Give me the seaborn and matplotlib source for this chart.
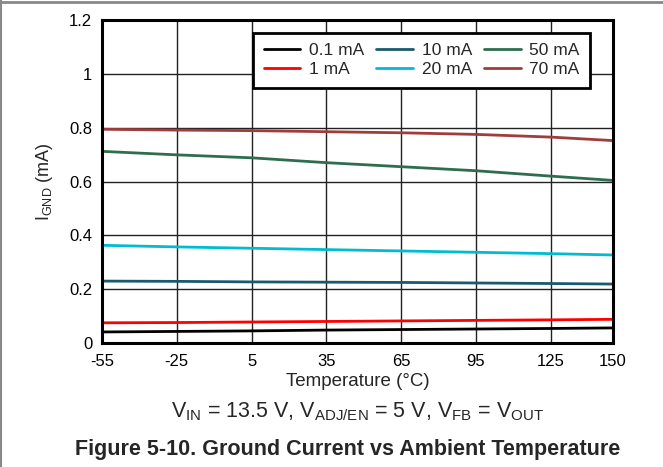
import numpy as np
import pandas as pd
import matplotlib
matplotlib.use("Agg")
import matplotlib.pyplot as plt
from matplotlib.lines import Line2D
import seaborn as sns

temps = [-55, -25, 5, 35, 65, 95, 125, 150]
i_01 = [0.041, 0.043, 0.045, 0.048, 0.050, 0.052, 0.054, 0.056]
i_1 = [0.075, 0.076, 0.078, 0.080, 0.082, 0.084, 0.086, 0.088]
i_10 = [0.230, 0.229, 0.227, 0.226, 0.225, 0.223, 0.221, 0.219]
i_20 = [0.363, 0.357, 0.352, 0.347, 0.342, 0.337, 0.332, 0.327]
i_50 = [0.712, 0.699, 0.688, 0.670, 0.655, 0.640, 0.620, 0.604]
i_70 = [0.794, 0.791, 0.789, 0.785, 0.781, 0.775, 0.765, 0.752]
series_names = ["0.1 mA", "1 mA", "10 mA", "20 mA", "50 mA", "70 mA"]
colors = ["#000000", "#FF0000", "#1A5A6E", "#00BCD0", "#2E6E4E", "#A03C3C"]
x_ticks = [-55, -25, 5, 35, 65, 95, 125, 150]
y_ticks = [0, 0.2, 0.4, 0.6, 0.8, 1.0, 1.2]
y_tick_labels = ["0", "0.2", "0.4", "0.6", "0.8", "1", "1.2"]

rows = []
for name, vals in zip(series_names, [i_01, i_1, i_10, i_20, i_50, i_70]):
    for t, v in zip(temps, vals):
        rows.append({"Temperature": t, "IGND": v, "Series": name})
df = pd.DataFrame(rows)

sns.set_style("white")
plt.rcParams["font.family"] = ["Liberation Sans", "DejaVu Sans"]
plt.rcParams["mathtext.fontset"] = "custom"
plt.rcParams["mathtext.rm"] = "Liberation Sans"
plt.rcParams["mathtext.it"] = "Liberation Sans"

fig = plt.figure(figsize=(6.63, 4.67), dpi=100)
ax = fig.add_axes([102 / 663, 1 - 343 / 467, 511 / 663, 323 / 467])

sns.lineplot(data=df, x="Temperature", y="IGND", hue="Series",
             hue_order=series_names, palette=colors, linewidth=2, ax=ax,
             legend=False, zorder=3)

ax.set_xlim(-55, 150)
ax.set_ylim(0, 1.2)
ax.set_xticks(x_ticks)
ax.set_xticklabels([str(t) for t in x_ticks])
ax.set_yticks(y_ticks)
ax.set_yticklabels(y_tick_labels)
ax.tick_params(axis="x", length=0, labelsize=12, pad=8, colors="#000000")
ax.tick_params(axis="y", length=0, labelsize=12, pad=7, colors="#000000")
ax.grid(True, color="#222222", linewidth=1.0, zorder=1)
ax.set_axisbelow(True)
for s in ax.spines.values():
    s.set_visible(True)
    s.set_color("black")
    s.set_linewidth(2.2)
    s.set_zorder(5)

ax.set_xlabel("Temperature (°C)", fontsize=13.5, labelpad=3)
ax.set_ylabel(r"I$_{\mathrm{GND}}$ (mA)", fontsize=13, labelpad=10)

handles = [Line2D([0], [0], color=c, lw=2) for c in colors]
leg = ax.legend(handles, series_names, ncol=3, loc="upper right",
                bbox_to_anchor=(0.955, 0.96), borderaxespad=0, frameon=True,
                fancybox=False, fontsize=12.5, handlelength=2.1,
                columnspacing=0.7, handletextpad=0.5, labelspacing=0.2,
                borderpad=0.6)
leg.get_frame().set_edgecolor("black")
leg.get_frame().set_linewidth(2)
leg.get_frame().set_facecolor("white")
leg.get_frame().set_alpha(1)
leg.set_zorder(6)

fig.text(358 / 663, 1 - 412 / 467,
         r"V$_{\mathrm{IN}}$ = 13.5 V, V$_{\mathrm{ADJ/EN}}$ = 5 V, V$_{\mathrm{FB}}$ = V$_{\mathrm{OUT}}$",
         ha="center", va="center", fontsize=15.5)
fig.text(348 / 663, 1 - 450 / 467,
         "Figure 5-10. Ground Current vs Ambient Temperature",
         ha="center", va="center", fontsize=15.5, fontweight="bold")

fig.add_artist(Line2D([0, 1], [1 - 2 / 467, 1 - 2 / 467], color="#888888", lw=2,
                      transform=fig.transFigure))
fig.add_artist(Line2D([1 / 663, 1 / 663], [0, 1], color="#888888", lw=1.5,
                      transform=fig.transFigure))

fig.savefig("out.png", dpi=100)
